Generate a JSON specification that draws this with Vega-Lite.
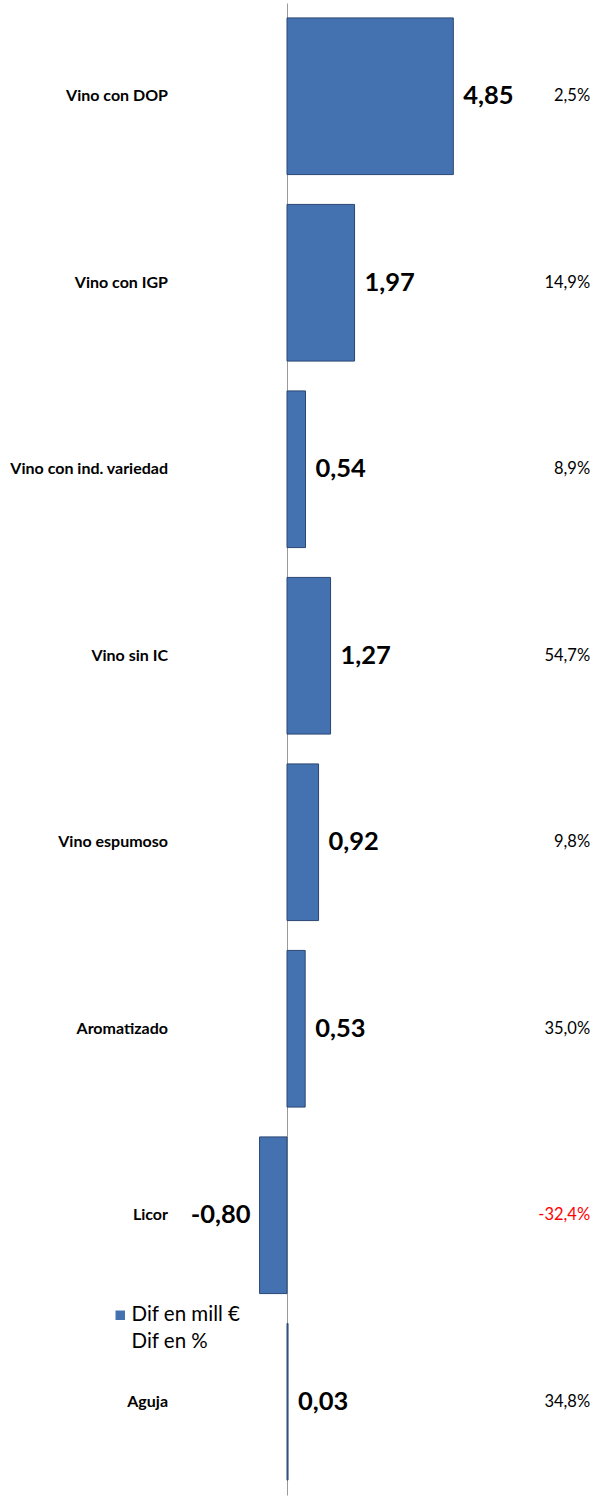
{
  "$schema": "https://vega.github.io/schema/vega-lite/v6.json",
  "autosize": "none",
  "width": 596,
  "height": 1492,
  "padding": {"top": 3, "bottom": 2, "left": 0, "right": 0},
  "background": "white",
  "config": {"view": {"stroke": null}, "font": "Lato"},
  "data": {
    "values": [
      {"cat": "Vino con DOP", "val": 4.85, "label": "4,85", "pct": 2.5, "pctlabel": "2,5%", "serie": "Dif en mill €"},
      {"cat": "Vino con IGP", "val": 1.97, "label": "1,97", "pct": 14.9, "pctlabel": "14,9%", "serie": "Dif en mill €"},
      {"cat": "Vino con ind. variedad", "val": 0.54, "label": "0,54", "pct": 8.9, "pctlabel": "8,9%", "serie": "Dif en mill €"},
      {"cat": "Vino sin IC", "val": 1.27, "label": "1,27", "pct": 54.7, "pctlabel": "54,7%", "serie": "Dif en mill €"},
      {"cat": "Vino espumoso", "val": 0.92, "label": "0,92", "pct": 9.8, "pctlabel": "9,8%", "serie": "Dif en mill €"},
      {"cat": "Aromatizado", "val": 0.53, "label": "0,53", "pct": 35.0, "pctlabel": "35,0%", "serie": "Dif en mill €"},
      {"cat": "Licor", "val": -0.80, "label": "-0,80", "pct": -32.4, "pctlabel": "-32,4%", "serie": "Dif en mill €"},
      {"cat": "Aguja", "val": 0.03, "label": "0,03", "pct": 34.8, "pctlabel": "34,8%", "serie": "Dif en mill €"}
    ]
  },
  "layer": [
    {
      "mark": {
        "type": "bar",
        "stroke": "#2b4674",
        "strokeWidth": 1
      },
      "encoding": {
        "y": {
          "field": "cat",
          "type": "nominal",
          "sort": null,
          "scale": {"paddingInner": 0.16, "paddingOuter": 0.08},
          "axis": {
            "orient": "left",
            "offset": -287,
            "title": null,
            "labels": false,
            "ticks": false,
            "domainColor": "#9a9a9a",
            "domainWidth": 1
          }
        },
        "x": {
          "field": "val",
          "type": "quantitative",
          "scale": {"domain": [-8.37, 9.011], "nice": false, "zero": false},
          "axis": null
        },
        "fill": {
          "field": "serie",
          "type": "nominal",
          "scale": {"domain": ["Dif en mill €", "Dif en %"], "range": ["#4472b0", "transparent"]},
          "legend": {
            "title": null,
            "orient": "none",
            "legendX": 110,
            "legendY": 1302,
            "symbolType": "square",
            "symbolSize": 90,
            "symbolStrokeWidth": 0,
            "labelFontSize": 20.5,
            "labelFont": "Lato",
            "labelColor": "#000000",
            "labelOffset": 1,
            "rowPadding": 6,
            "padding": 0
          }
        }
      }
    },
    {
      "mark": {"type": "text", "align": "right", "baseline": "middle", "fontWeight": "bold", "fontSize": 16, "font": "Lato", "color": "#000000"},
      "encoding": {
        "y": {"field": "cat", "type": "nominal", "sort": null},
        "x": {"datum": -3.47, "type": "quantitative"},
        "text": {"field": "cat"}
      }
    },
    {
      "transform": [{"filter": "datum.val >= 0"}],
      "mark": {"type": "text", "align": "left", "baseline": "middle", "dx": 10, "fontWeight": "bold", "fontSize": 25.5, "font": "Lato", "color": "#000000"},
      "encoding": {
        "y": {"field": "cat", "type": "nominal", "sort": null},
        "x": {"field": "val", "type": "quantitative"},
        "text": {"field": "label"}
      }
    },
    {
      "transform": [{"filter": "datum.val < 0"}],
      "mark": {"type": "text", "align": "right", "baseline": "middle", "dx": -9, "fontWeight": "bold", "fontSize": 25.5, "font": "Lato", "color": "#000000"},
      "encoding": {
        "y": {"field": "cat", "type": "nominal", "sort": null},
        "x": {"field": "val", "type": "quantitative"},
        "text": {"field": "label"}
      }
    },
    {
      "transform": [{"filter": "datum.pct >= 0"}],
      "mark": {"type": "text", "align": "right", "baseline": "middle", "fontSize": 16.5, "font": "Lato", "color": "#000000"},
      "encoding": {
        "y": {"field": "cat", "type": "nominal", "sort": null},
        "x": {"datum": 8.84, "type": "quantitative"},
        "text": {"field": "pctlabel"}
      }
    },
    {
      "transform": [{"filter": "datum.pct < 0"}],
      "mark": {"type": "text", "align": "right", "baseline": "middle", "fontSize": 16.5, "font": "Lato", "color": "#ff0000"},
      "encoding": {
        "y": {"field": "cat", "type": "nominal", "sort": null},
        "x": {"datum": 8.84, "type": "quantitative"},
        "text": {"field": "pctlabel"}
      }
    }
  ]
}
